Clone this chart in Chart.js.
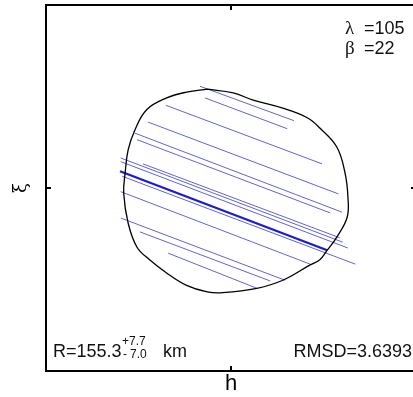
<!DOCTYPE html>
<html>
<head>
<meta charset="utf-8">
<script src="https://cdn.jsdelivr.net/npm/chart.js@4.4.1/dist/chart.umd.min.js"></script>
<style>
  html, body { margin: 0; padding: 0; background: #fff; overflow: hidden; }
  #wrap { width: 420px; height: 397px; }
</style>
</head>
<body>
<div id="wrap"><canvas id="c" width="420" height="397"></canvas></div>
<script>
// shape outline (km), clockwise from the top
const outlineX = [-32, 3, 30, 70, 103, 120, 143, 154, 158, 157, 143, 130, 120, 107, 70, 35, -11, -32, -60, -87, -110, -127, -139, -145, -143, -139, -130, -114, -87, -60, -32];
const outlineY = [135, 130, 120, 109, 96, 82, 56, 21, -12, -40, -67, -85, -98, -105, -126, -137, -143, -142, -133, -116, -98, -81, -48, -7, 21, 52, 79, 107, 123, 131, 135];

// chords: start and end points (km)
const chordX1 = [-42, -35, -88, -112, -130, -127, -119, -149, -149, -147, -149, -149, -123, -85];
const chordY1 = [139, 123, 113, 90, 75, 66, 33, 41, 36, 16, -5, -41, -60, -89];
const chordX2 = [85, 76, 123, 145, 150, 134, 147, 151, 158, 168, 107, 73, 53, 35];
const chordY2 = [92, 81, 33, -8, -33, -34, -68, -74, -82, -104, -104, -126, -127, -137];

// thick chord
const mainX = [-150, 130];
const mainY = [23, -85];

const lambda = 105, beta = 22;
const radius = "155.3", errPlus = "7.7", errMinus = "7.0", rmsd = "3.6393";

const datasets = [];
datasets.push({
  data: outlineX.map((x, i) => ({ x, y: outlineY[i] })),
  borderColor: "#000", borderWidth: 1.3, pointRadius: 0, tension: 0.4, showLine: true, fill: false,
});
for (let i = 0; i < chordX1.length; i++) {
  datasets.push({
    data: [{ x: chordX1[i], y: chordY1[i] }, { x: chordX2[i], y: chordY2[i] }],
    borderColor: "#3a3ad0", borderWidth: 0.8, pointRadius: 0, showLine: true,
  });
}
datasets.push({
  data: mainX.map((x, i) => ({ x, y: mainY[i] })),
  borderColor: "#1a1ad8", borderWidth: 2.2, pointRadius: 0, showLine: true,
});

const frame = {
  id: "frame",
  afterDraw(chart) {
    const { ctx, chartArea: a, scales: { x, y } } = chart;
    ctx.save();
    ctx.strokeStyle = "#000";
    ctx.lineWidth = 2;
    ctx.strokeRect(a.left, a.top, a.right - a.left, a.bottom - a.top);
    const cx = x.getPixelForValue(0), cy = y.getPixelForValue(0);
    ctx.beginPath();
    ctx.moveTo(cx, a.top); ctx.lineTo(cx, a.top + 5);
    ctx.moveTo(cx, a.bottom); ctx.lineTo(cx, a.bottom - 5);
    ctx.moveTo(a.left, cy); ctx.lineTo(a.left + 5, cy);
    ctx.moveTo(a.right, cy); ctx.lineTo(a.right - 5, cy);
    ctx.stroke();

    ctx.fillStyle = "#111";
    ctx.textBaseline = "alphabetic";
    ctx.textAlign = "left";
    ctx.font = "19px 'Liberation Serif'";
    ctx.fillText("λ", 345, 34);
    ctx.fillText("β", 345, 54);
    ctx.font = "18px 'Liberation Sans'";
    ctx.fillText("=" + lambda, 364, 34);
    ctx.fillText("=" + beta, 364, 54);

    ctx.fillText("R=" + radius, 53, 357);
    ctx.font = "12px 'Liberation Sans'";
    ctx.fillText("+", 122, 345);
    ctx.fillText(errPlus, 129, 345);
    ctx.fillText("-", 123, 358);
    ctx.fillText(errMinus, 130, 358);
    ctx.font = "18px 'Liberation Sans'";
    ctx.fillText("km", 163, 357);
    ctx.textAlign = "right";
    ctx.fillText("RMSD=" + rmsd, 412, 357);
    ctx.restore();
  },
};

new Chart(document.getElementById("c"), {
  type: "scatter",
  data: { datasets },
  options: {
    responsive: false,
    animation: false,
    layout: { padding: { left: 11, top: 5, right: 4, bottom: 0 } },
    plugins: { legend: { display: false }, tooltip: { enabled: false } },
    scales: {
      x: {
        type: "linear", min: -250, max: 250,
        ticks: { display: false }, grid: { display: false }, border: { display: false },
        title: { display: true, text: "h", color: "#000", font: { family: "Liberation Sans", size: 22 }, padding: { top: 0, bottom: 0 } },
        afterFit: (s) => { s.height = 26; },
      },
      y: {
        type: "linear", min: -250, max: 250,
        ticks: { display: false }, grid: { display: false }, border: { display: false },
        title: { display: true, text: "ξ", color: "#000", font: { family: "DejaVu Serif", size: 18 }, padding: { top: 0, bottom: 0 } },
        afterFit: (s) => { s.width = 35; },
      },
    },
  },
  plugins: [frame],
});
</script>
</body>
</html>
